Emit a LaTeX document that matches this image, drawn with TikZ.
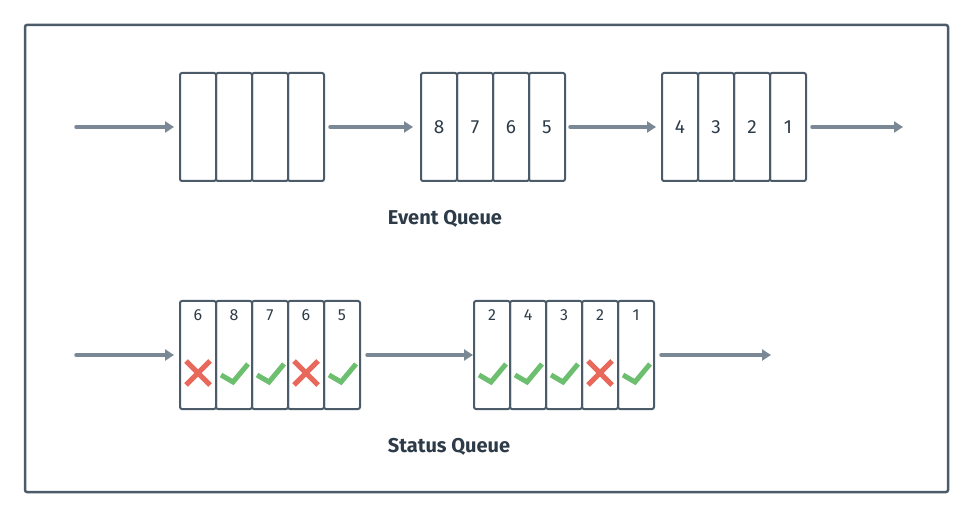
\documentclass[tikz,border=0pt]{standalone}
\usepackage{fontspec}
\setmainfont{Fira Sans}
\usetikzlibrary{positioning,arrows.meta}

\definecolor{framegray}{HTML}{4B5B69}
\definecolor{flowgray}{HTML}{7A8896}
\definecolor{textdark}{HTML}{2D3B48}
\definecolor{okgreen}{HTML}{6BBF6E}
\definecolor{badred}{HTML}{E8695C}

\tikzset{
	cell/.style={draw=framegray, line width=2pt, rounded corners=2pt, minimum width=36pt, minimum height=108pt, outer sep=0pt, inner sep=0pt, text=textdark, font=\fontsize{19}{19}\selectfont},
	digit/.style={inner sep=0pt, text=textdark, font=\fontsize{16}{16}\selectfont},
	flow/.style={draw=flowgray, line width=3.5pt, line cap=round, -{Triangle[length=9pt,width=11pt]}},
	title/.style={text=textdark, font=\bfseries\fontsize{20}{20}\selectfont},
	tick/.pic={\draw[okgreen, line width=5pt] (-13pt,-2pt) -- (-1pt,-9pt) -- (14pt,9pt);},
	cross/.pic={\draw[badred, line width=5pt] (-12pt,-12pt) -- (12pt,12pt) (-12pt,12pt) -- (12pt,-12pt);},
}

\begin{document}
\begin{tikzpicture}[x=1pt, y=-1pt]
	\useasboundingbox (0,0) rectangle (974,518);
	\draw[framegray, line width=2.5pt, rounded corners=2pt] (25,25) rectangle (948,492);
	
	% event queue
	\coordinate (a0) at (180,127);
	\foreach \i [remember=\i as \j (initially 0)] in {1,...,4}
		\node[cell, right=0pt of a\j] (a\i) {};
	\coordinate[right=97pt of a4] (b0);
	\foreach \v [count=\i, remember=\i as \j (initially 0)] in {8,7,6,5}
		\node[cell, right=0pt of b\j] (b\i) {\v};
	\coordinate[right=97pt of b4] (c0);
	\foreach \v [count=\i, remember=\i as \j (initially 0)] in {4,3,2,1}
		\node[cell, right=0pt of c\j] (c\i) {\v};
	
	\coordinate (ain) at (76,127);
	\coordinate (aout) at (903,127);
	\draw[flow] (ain) -- ([xshift=-6pt]a1.west);
	\draw[flow] ([xshift=6pt]a4.east) -- ([xshift=-8pt]b1.west);
	\draw[flow] ([xshift=5pt]b4.east) -- ([xshift=-6pt]c1.west);
	\draw[flow] ([xshift=6pt]c4.east) -- (aout);
	
	\node[title] (evq) at (445,219) {Event Queue};
	
	% status queue
	\coordinate (s0) at (180,355);
	\foreach \v/\m [count=\i, remember=\i as \j (initially 0)] in {6/cross,8/tick,7/tick,6/cross,5/tick} {
		\node[cell, right=0pt of s\j] (s\i) {};
		\node[digit] (sn\i) at ([yshift=-14pt]s\i.north) {\v};
		\pic at ([yshift=-18pt]s\i.center) {\m};
	}
	\coordinate[right=114pt of s5] (t0);
	\foreach \v/\m [count=\i, remember=\i as \j (initially 0)] in {2/tick,4/tick,3/tick,2/cross,1/tick} {
		\node[cell, right=0pt of t\j] (t\i) {};
		\node[digit] (tn\i) at ([yshift=-14pt]t\i.north) {\v};
		\pic at ([yshift=-18pt]t\i.center) {\m};
	}
	
	\coordinate (sin) at (76,355);
	\coordinate (sout) at (771,355);
	\draw[flow] (sin) -- ([xshift=-6pt]s1.west);
	\draw[flow] ([xshift=7pt]s5.east) -- ([xshift=-1pt]t1.west);
	\draw[flow] ([xshift=7pt]t5.east) -- (sout);
	
	\node[title] (stq) at (449,447) {Status Queue};
\end{tikzpicture}
\end{document}
